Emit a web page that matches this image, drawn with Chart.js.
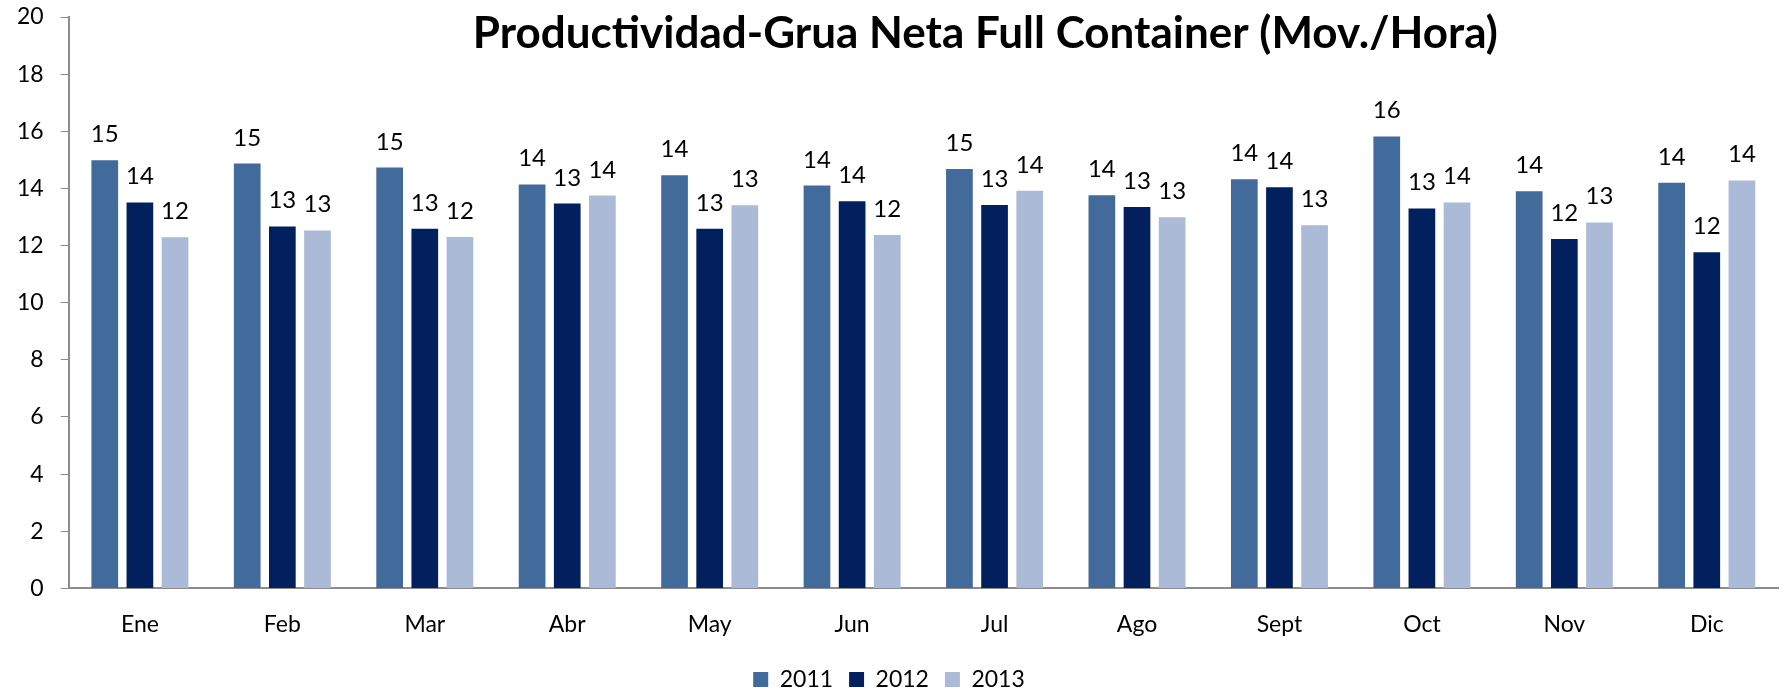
<!DOCTYPE html>
<html>
<head>
<meta charset="utf-8">
<script src="https://cdn.jsdelivr.net/npm/chart.js@4.4.1/dist/chart.umd.min.js"></script>
<style>
    html, body { margin: 0; padding: 0; background: #fff; }
    #wrap { width: 1785px; height: 691px; }
</style>
</head>
<body>
<div id="wrap"><canvas id="gruaChart"></canvas></div>
<script>
// 数据
const meses = ['Ene', 'Feb', 'Mar', 'Abr', 'May', 'Jun', 'Jul', 'Ago', 'Sept', 'Oct', 'Nov', 'Dic'];
const datos2011 = [14.99, 14.87, 14.73, 14.14, 14.46, 14.10, 14.68, 13.76, 14.32, 15.82, 13.90, 14.20];
const datos2012 = [13.51, 12.67, 12.59, 13.47, 12.59, 13.55, 13.42, 13.35, 14.04, 13.30, 12.23, 11.77];
const datos2013 = [12.29, 12.53, 12.30, 13.75, 13.41, 12.37, 13.92, 12.99, 12.71, 13.51, 12.81, 14.28];
const yTicks = [0, 2, 4, 6, 8, 10, 12, 14, 16, 18, 20];
const titulo = 'Productividad-Grua Neta Full Container (Mov./Hora)';

const fuente = 'Lato, "Noto Sans", sans-serif';

// 柱顶数值标签
const valueLabels = {
    id: 'valueLabels',
    afterDatasetsDraw(chart) {
        const ctx = chart.ctx;
        ctx.save();
        ctx.font = '24px ' + fuente;
        ctx.fillStyle = '#000';
        ctx.textAlign = 'center';
        ctx.textBaseline = 'alphabetic';
        chart.data.datasets.forEach((ds, i) => {
            const meta = chart.getDatasetMeta(i);
            meta.data.forEach((bar, j) => {
                ctx.fillText(String(Math.round(ds.data[j])), bar.x, bar.y - 18);
            });
        });
        ctx.restore();
    }
};

// 标题（覆盖在绘图区上方）
const overlayTitle = {
    id: 'overlayTitle',
    afterDraw(chart) {
        const ctx = chart.ctx;
        const area = chart.chartArea;
        ctx.save();
        ctx.font = 'bold 44px ' + fuente;
        ctx.fillStyle = '#000';
        ctx.textAlign = 'center';
        ctx.textBaseline = 'alphabetic';
        ctx.fillText(titulo, (area.left + area.right) / 2 + 62, 48);
        ctx.restore();
    }
};

const ctx = document.getElementById('gruaChart').getContext('2d');
const gruaChart = new Chart(ctx, {
    type: 'bar',
    data: {
        labels: meses,
        datasets: [
            { label: '2011', data: datos2011, backgroundColor: '#426A9B' },
            { label: '2012', data: datos2012, backgroundColor: '#03205E' },
            { label: '2013', data: datos2013, backgroundColor: '#ABBAD7' }
        ]
    },
    options: {
        responsive: true,
        maintainAspectRatio: false,
        animation: false,
        layout: {
            padding: { top: 0, right: 7, left: 0, bottom: -10 }
        },
        datasets: {
            bar: {
                categoryPercentage: 0.74,
                barPercentage: 0.76
            }
        },
        plugins: {
            legend: {
                position: 'bottom',
                labels: {
                    boxWidth: 15,
                    boxHeight: 15,
                    color: '#000',
                    padding: 16,
                    font: { family: fuente, size: 23 }
                }
            },
            tooltip: { enabled: false }
        },
        scales: {
            x: {
                grid: { display: false },
                border: { display: true, color: '#8c8c8c', width: 2 },
                ticks: {
                    color: '#000',
                    padding: 14,
                    font: { family: fuente, size: 23 }
                }
            },
            y: {
                min: 0,
                max: 20,
                afterBuildTicks: axis => {
                    axis.ticks = yTicks.map(v => ({ value: v }));
                },
                // 让绘图区顶部贴近画布
                afterFit: axis => {
                    axis.paddingTop = 17;
                },
                grid: {
                    drawOnChartArea: false,
                    drawTicks: true,
                    tickLength: 8,
                    color: '#8c8c8c'
                },
                border: { display: true, color: '#8c8c8c', width: 2 },
                ticks: {
                    color: '#000',
                    padding: 17,
                    font: { family: fuente, size: 23 }
                }
            }
        }
    },
    plugins: [valueLabels, overlayTitle]
});
</script>
</body>
</html>
